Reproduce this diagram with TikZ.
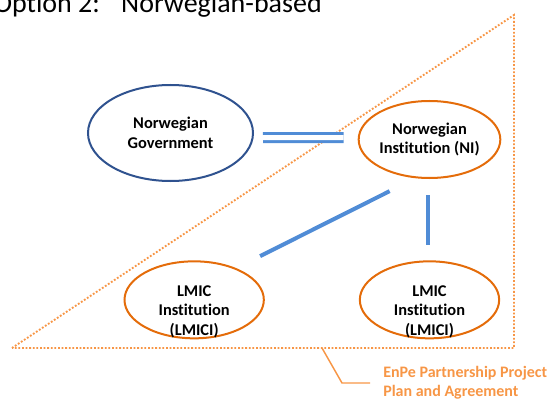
\documentclass[tikz,border=0pt]{standalone}
\usepackage{fontspec}
\setmainfont[RawFeature=-liga]{Carlito}
\usepackage{tikz}
\usetikzlibrary{
  shapes.geometric,
  positioning
}
\definecolor{govblue}{RGB}{47,82,143}
\definecolor{linkblue}{RGB}{80,140,214}
\definecolor{instorange}{RGB}{228,108,10}
\definecolor{planorange}{RGB}{247,150,70}

\begin{document}
\begin{tikzpicture}[
      x=0.75pt,y=0.75pt,
      party/.style={
         ellipse,
         line width=1.5pt,
         inner sep=0pt,
         align=center,
         font=\bfseries\fontsize{12.3}{14.8}\selectfont
      },
      government/.style={
         party,
         draw=govblue,
         minimum width=123.75pt,
         minimum height=72pt
      },
      institution/.style={
         party,
         draw=instorange,
         minimum width=104.5pt,
         minimum height=57.75pt
      },
      lmic text/.style={
         align=center,
         yshift=-9pt,
         font=\bfseries\fontsize{12.3}{14.8}\selectfont
      },
      link/.style={draw=linkblue,line width=3pt},
      equal link/.style={
         draw=linkblue,line width=2.25pt,
         double=white,double distance=3.75pt
      },
      plan/.style={
         draw=planorange,line width=1.4pt,
         dash pattern=on 1.35pt off 1.35pt
      },
      callout/.style={draw=planorange,line width=1.1pt},
      plan text/.style={
         anchor=west,inner sep=0pt,align=left,
         text=planorange,
         font=\bfseries\fontsize{12}{14.6}\selectfont
      },
      title/.style={
         inner sep=0pt,
         font=\fontsize{21}{25}\selectfont
      }
    ]
    \useasboundingbox (0,0) rectangle (551,401);

    \node[title,anchor=base east] (title) at (322,388.5) {Option 2:\hspace{16pt}Norwegian-based};

    % partnership triangle
    \coordinate (apex) at (514,386);
    \coordinate (base left) at (12,53);
    \coordinate (base right) at (514,53);
    \draw[plan] (base left) -- (apex) -- (base right) -- cycle;

    \node[government] (gov) at (170.5,268) {Norwegian\\Government};
    \node[institution] (ni) at (429.5,261.5) {Norwegian\\Institution (NI)};
    \node[institution,below=61pt of ni,
          label={[lmic text]center:LMIC\\Institution\\(LMICI)}] (lmic2) {};
    \node[institution,left=70.5pt of lmic2,
          label={[lmic text]center:LMIC\\Institution\\(LMICI)}] (lmic1) {};

    \draw[equal link,shorten <=6.75pt,shorten >=10.5pt]
       ([yshift=-3.4pt]gov.east) -- ([yshift=1.5pt]ni.west);
    \draw[link,shorten <=20pt,shorten >=21.6pt] (lmic1.37.5) -- (ni.250);
    \draw[link,shorten <=12pt,shorten >=11.25pt]
       ([xshift=-1.5pt]ni.south) -- ([xshift=-1.5pt]lmic2.north);

    % callout
    \coordinate (tag) at (322,53);
    \draw[callout] (tag) -- ++(20,-35) -- ++(28,0) coordinate (tag end);
    \node[plan text,right=9.75pt of tag end] (plan) {EnPe Partnership Project\\Plan and Agreement};
\end{tikzpicture}
\end{document}
